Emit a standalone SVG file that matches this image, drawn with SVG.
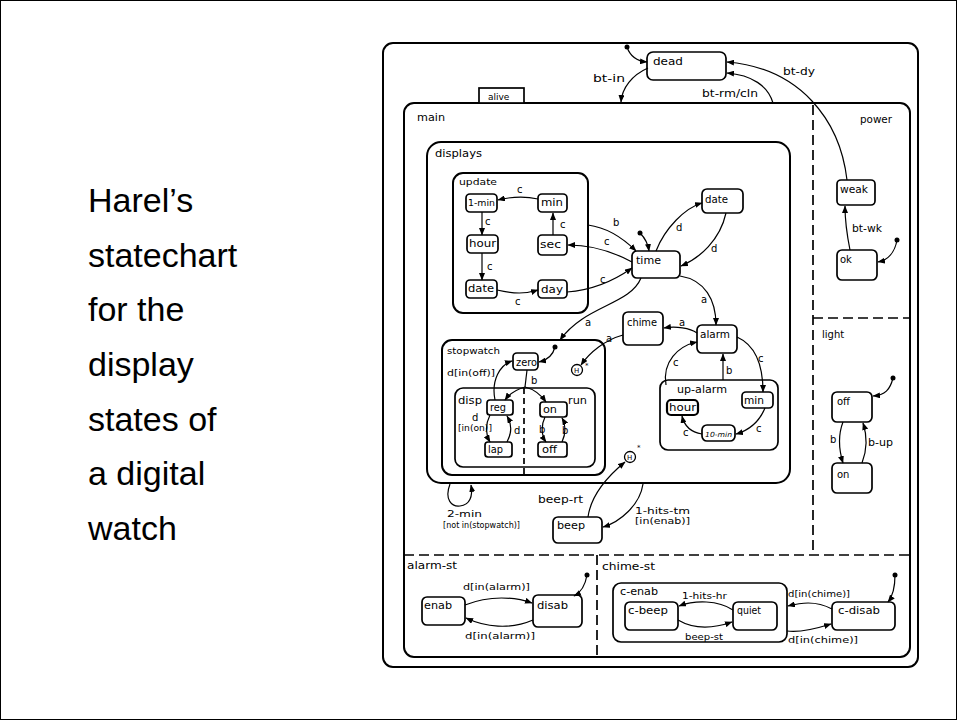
<svg xmlns="http://www.w3.org/2000/svg" width="957" height="720" viewBox="0 0 957 720">
<defs>
<marker id="ah" markerUnits="userSpaceOnUse" markerWidth="8" markerHeight="6" refX="7" refY="3" orient="auto">
<path d="M0,0 L7.5,3 L0,6 z" fill="#000"/>
</marker>
<style>
.bx{fill:none;stroke:#000;stroke-width:2}
.st{fill:#fff;stroke:#000;stroke-width:1.7}
.dash{fill:none;stroke:#000;stroke-width:1.7;stroke-dasharray:10 5}
.ar{fill:none;stroke:#000;stroke-width:1.2;marker-end:url(#ah)}
.ln{fill:none;stroke:#000;stroke-width:1.2}
.dot{fill:#000}
text{font-family:"DejaVu Sans","Liberation Sans",sans-serif;font-size:10px;fill:#000}
.s{font-size:9px}
.xs{font-size:8px}
.big{font-family:"Liberation Sans",Arial,sans-serif;font-size:34px}
</style>
</defs>
<rect x="0.5" y="0.5" width="956" height="719" fill="#fff" stroke="#000" stroke-width="1"/>
<g id="caption">
<text class="big" x="88" y="212">Harel’s</text>
<text class="big" x="88" y="267">statechart</text>
<text class="big" x="88" y="321">for the</text>
<text class="big" x="88" y="376">display</text>
<text class="big" x="88" y="431">states of</text>
<text class="big" x="88" y="485">a digital</text>
<text class="big" x="88" y="540">watch</text>
</g>
<g id="outer"><rect class="bx" x="383" y="43" width="535" height="624" rx="10"/></g>
<g id="alive">
<rect class="bx" x="404" y="103" width="506" height="554" rx="10"/>
<rect class="st" x="479" y="88" width="45" height="15"/>
<text class="s" x="488" y="100">alive</text>
</g>
<g id="dividers">
<line class="dash" x1="813" y1="105" x2="813" y2="555"/>
<line class="dash" x1="813" y1="318" x2="910" y2="318"/>
<line class="dash" x1="404" y1="555" x2="910" y2="555"/>
<line class="dash" x1="597" y1="555" x2="597" y2="657"/>
</g>
<g id="main"><text x="417" y="121" textLength="28" lengthAdjust="spacingAndGlyphs">main</text></g>
<g id="dead"><rect class="st" x="647" y="52" width="79" height="28" rx="6"/><text x="653" y="65" textLength="30" lengthAdjust="spacingAndGlyphs">dead</text></g>
<g id="power"><text x="860" y="123" textLength="32" lengthAdjust="spacingAndGlyphs">power</text></g>
<g id="weak"><rect class="st" x="837" y="180" width="38" height="25" rx="4"/><text x="840" y="193" textLength="28" lengthAdjust="spacingAndGlyphs">weak</text></g>
<g id="ok"><rect class="st" x="837" y="250" width="40" height="30" rx="5"/><text x="840" y="263">ok</text></g>
<g id="light"><text x="822" y="338">light</text></g>
<g id="light-off"><rect class="st" x="832" y="392" width="40" height="30" rx="5"/><text x="837" y="405">off</text></g>
<g id="light-on"><rect class="st" x="832" y="463" width="40" height="30" rx="5"/><text x="837" y="478">on</text></g>
<g id="displays"><rect class="bx" x="427" y="142" width="363" height="341" rx="14"/><text x="435" y="157" textLength="47" lengthAdjust="spacingAndGlyphs">displays</text></g>
<g id="update"><rect class="bx" x="453" y="173" width="135" height="140" rx="10"/><text class="s" x="459" y="185" textLength="38" lengthAdjust="spacingAndGlyphs">update</text></g>
<g id="u-1min"><rect class="st" x="466" y="194" width="31" height="18" rx="4"/><text class="s" x="468" y="206" textLength="27" lengthAdjust="spacingAndGlyphs">1-min</text></g>
<g id="u-min"><rect class="st" x="538" y="194" width="29" height="18" rx="4"/><text x="541" y="206" textLength="22" lengthAdjust="spacingAndGlyphs">min</text></g>
<g id="u-hour"><rect class="st" x="467" y="235" width="31" height="18" rx="4"/><text x="469" y="247" textLength="27" lengthAdjust="spacingAndGlyphs">hour</text></g>
<g id="u-sec"><rect class="st" x="538" y="235" width="29" height="20" rx="4"/><text x="540" y="248" textLength="21" lengthAdjust="spacingAndGlyphs">sec</text></g>
<g id="u-date"><rect class="st" x="466" y="280" width="31" height="18" rx="4"/><text x="468" y="292" textLength="26" lengthAdjust="spacingAndGlyphs">date</text></g>
<g id="u-day"><rect class="st" x="538" y="280" width="29" height="18" rx="4"/><text x="541" y="293" textLength="22" lengthAdjust="spacingAndGlyphs">day</text></g>
<g id="time"><rect class="st" x="632" y="251" width="48" height="27" rx="5"/><text x="636" y="264" textLength="25" lengthAdjust="spacingAndGlyphs">time</text></g>
<g id="date"><rect class="st" x="702" y="189" width="41" height="24" rx="5"/><text x="705" y="203" textLength="23" lengthAdjust="spacingAndGlyphs">date</text></g>
<g id="chime"><rect class="st" x="623" y="312" width="40" height="33" rx="5"/><text x="627" y="326" textLength="30" lengthAdjust="spacingAndGlyphs">chime</text></g>
<g id="alarm"><rect class="st" x="697" y="325" width="40" height="28" rx="5"/><text x="700" y="338" textLength="30" lengthAdjust="spacingAndGlyphs">alarm</text></g>
<g id="stopwatch"><rect class="bx" x="442" y="340" width="163" height="135" rx="10"/><text class="s" x="447" y="354" textLength="53" lengthAdjust="spacingAndGlyphs">stopwatch</text></g>
<g id="h1"><circle cx="577" cy="370" r="5.5" fill="#fff" stroke="#000" stroke-width="1.3"/><text x="574" y="373" style="font-size:7px">H</text><text x="585" y="368" style="font-size:7px">*</text></g>
<g id="zero"><rect class="st" x="513" y="353" width="25" height="17" rx="4"/><text x="516" y="366" textLength="21" lengthAdjust="spacingAndGlyphs">zero</text></g>
<g id="disp-run"><rect class="bx" x="455" y="388" width="140" height="79" rx="8" style="stroke-width:1.7"/><line class="dash" x1="524" y1="388" x2="524" y2="475" style="stroke-dasharray:6 4"/><text x="458" y="404" textLength="24" lengthAdjust="spacingAndGlyphs">disp</text><text x="568" y="404" textLength="19" lengthAdjust="spacingAndGlyphs">run</text></g>
<g id="reg"><rect class="st" x="487" y="400" width="26" height="15" rx="3"/><text x="490" y="411" textLength="16" lengthAdjust="spacingAndGlyphs">reg</text></g>
<g id="lap"><rect class="st" x="485" y="442" width="27" height="15" rx="3"/><text x="488" y="453" textLength="15" lengthAdjust="spacingAndGlyphs">lap</text></g>
<g id="sw-on"><rect class="st" x="540" y="402" width="27" height="15" rx="3"/><text x="543" y="413" textLength="14" lengthAdjust="spacingAndGlyphs">on</text></g>
<g id="sw-off"><rect class="st" x="538" y="442" width="29" height="15" rx="3"/><text x="542" y="453" textLength="15" lengthAdjust="spacingAndGlyphs">off</text></g>
<g id="up-alarm"><rect class="bx" x="660" y="380" width="118" height="70" rx="8" style="stroke-width:1.7"/><text x="677" y="393" textLength="50" lengthAdjust="spacingAndGlyphs">up-alarm</text></g>
<g id="ua-hour"><rect class="st" x="667" y="400" width="31" height="15" rx="4" style="stroke-width:2.2"/><text x="669" y="411" textLength="27" lengthAdjust="spacingAndGlyphs">hour</text></g>
<g id="ua-min"><rect class="st" x="742" y="392" width="31" height="16" rx="4"/><text x="744" y="404" textLength="20" lengthAdjust="spacingAndGlyphs">min</text></g>
<g id="ua-10min"><rect class="st" x="702" y="425" width="33" height="16" rx="5"/><text x="705" y="437" style="font-size:7px;font-style:italic" textLength="27" lengthAdjust="spacingAndGlyphs">10-min</text></g>
<g id="h2"><circle cx="630" cy="457" r="5.5" fill="#fff" stroke="#000" stroke-width="1.3"/><text x="627" y="460" style="font-size:7px">H</text><text x="637" y="450" style="font-size:7px">*</text></g>
<g id="beep"><rect class="st" x="553" y="517" width="49" height="26" rx="5"/><text x="557" y="529" textLength="28" lengthAdjust="spacingAndGlyphs">beep</text></g>
<g id="alarm-st"><text x="407" y="569" textLength="50" lengthAdjust="spacingAndGlyphs">alarm-st</text></g>
<g id="enab"><rect class="st" x="422" y="597" width="43" height="28" rx="5"/><text x="424" y="609" textLength="28" lengthAdjust="spacingAndGlyphs">enab</text></g>
<g id="disab"><rect class="st" x="533" y="595" width="49" height="32" rx="5"/><text x="537" y="609" textLength="31" lengthAdjust="spacingAndGlyphs">disab</text></g>
<g id="chime-st"><text x="602" y="570" textLength="53" lengthAdjust="spacingAndGlyphs">chime-st</text></g>
<g id="c-enab"><rect class="bx" x="613" y="583" width="174" height="59" rx="8" style="stroke-width:1.7"/><text x="620" y="595" textLength="38" lengthAdjust="spacingAndGlyphs">c-enab</text></g>
<g id="c-beep"><rect class="st" x="625" y="602" width="53" height="28" rx="5"/><text x="628" y="614" textLength="40" lengthAdjust="spacingAndGlyphs">c-beep</text></g>
<g id="quiet"><rect class="st" x="733" y="602" width="44" height="28" rx="5"/><text x="737" y="614" textLength="24" lengthAdjust="spacingAndGlyphs">quiet</text></g>
<g id="c-disab"><rect class="st" x="832" y="602" width="63" height="28" rx="5"/><text x="838" y="614" textLength="42" lengthAdjust="spacingAndGlyphs">c-disab</text></g>
<g id="connectors">
<circle class="dot" cx="627" cy="47" r="2.5"/><path class="ar" d="M627,47 C630,56 636,61 647,62"/>
<path class="ar" d="M648,68 C632,75 622,88 621,102"/>
<path class="ar" d="M773,103 C768,86 752,75 727,73"/>
<path class="ar" d="M847,180 C840,120 800,68 727,62"/>
<path class="ar" d="M850,250 C847,235 845,220 845,206"/>
<circle class="dot" cx="897" cy="240" r="2.5"/><path class="ar" d="M897,240 C895,252 888,260 878,262"/>
<circle class="dot" cx="893" cy="378" r="2.5"/><path class="ar" d="M893,378 C890,390 885,395 873,396"/>
<path class="ar" d="M843,422 C838,435 839,450 843,463"/>
<path class="ar" d="M862,463 C867,450 867,435 863,423"/>
<path class="ar" d="M588,225 C610,228 625,240 636,251"/>
<path class="ar" d="M632,262 C610,250 590,245 568,245"/>
<path class="ar" d="M567,292 C595,290 615,280 632,268"/>
<path class="ar" d="M538,199 C525,196 510,197 498,200"/>
<path class="ar" d="M482,212 L482,235"/>
<path class="ar" d="M482,253 L482,280"/>
<path class="ar" d="M497,290 C515,294 525,294 538,290"/>
<path class="ar" d="M553,235 L553,213"/>
<circle class="dot" cx="640" cy="233" r="2.5"/><path class="ar" d="M640,233 C645,238 648,244 649,251"/>
<path class="ar" d="M656,251 C665,228 685,208 702,203"/>
<path class="ar" d="M726,213 C720,240 700,258 681,266"/>
<path class="ar" d="M680,276 C705,280 716,300 716,325"/>
<path class="ar" d="M641,278 C630,305 585,305 560,340"/>
<path class="ar" d="M697,333 C690,328 676,326 664,328"/>
<path class="ar" d="M623,335 C605,340 590,352 581,365"/>
<circle class="dot" cx="555" cy="347" r="2.5"/><path class="ar" d="M555,347 C553,355 548,360 539,362"/>
<path class="ln" d="M527,370 L525,387"/>
<path class="ar" d="M525,387 C518,389 510,393 505,400"/>
<path class="ar" d="M525,387 C533,389 541,395 546,402"/>
<path class="ar" d="M495,400 C491,380 500,365 512,361"/>
<path class="ar" d="M490,415 C485,425 486,435 490,442"/>
<path class="ar" d="M507,442 C512,432 512,425 507,416"/>
<path class="ar" d="M545,417 C541,425 541,435 546,442"/>
<path class="ar" d="M562,442 C566,433 566,425 562,418"/>
<path class="ar" d="M737,337 C755,345 763,365 763,392"/>
<path class="ar" d="M765,408 C760,420 750,430 736,434"/>
<path class="ar" d="M702,434 C690,432 684,425 682,416"/>
<path class="ar" d="M666,385 C662,362 678,346 697,342"/>
<path class="ar" d="M723,380 L723,354"/>
<path class="ar" d="M588,517 C591,495 608,476 625,462"/>
<path class="ar" d="M643,484 C640,505 620,522 603,527"/>
<path class="ar" d="M450,484 C444,500 452,507 460,506 C470,505 473,496 471,485"/>
<path class="ar" d="M465,605 C490,595 515,597 532,603"/>
<path class="ar" d="M533,620 C510,630 485,627 466,618"/>
<circle class="dot" cx="587" cy="575" r="2.5"/><path class="ar" d="M587,575 C585,587 580,593 574,596"/>
<path class="ar" d="M733,610 C718,600 695,600 679,606"/>
<path class="ar" d="M678,620 C695,630 715,628 732,622"/>
<path class="ar" d="M832,609 C815,600 800,603 788,606"/>
<path class="ar" d="M787,631 C800,633 815,629 831,624"/>
<circle class="dot" cx="895" cy="575" r="2.5"/><path class="ar" d="M895,575 C895,590 892,597 888,602"/>
</g>
<g id="labels">
<text x="593" y="82" textLength="32" lengthAdjust="spacingAndGlyphs">bt-in</text>
<text x="702" y="97" textLength="56" lengthAdjust="spacingAndGlyphs">bt-rm/cln</text>
<text x="783" y="75" textLength="32" lengthAdjust="spacingAndGlyphs">bt-dy</text>
<text x="852" y="232" textLength="30" lengthAdjust="spacingAndGlyphs">bt-wk</text>
<text x="830" y="443">b</text>
<text x="868" y="446" textLength="25" lengthAdjust="spacingAndGlyphs">b-up</text>
<text x="517" y="193">c</text>
<text x="485" y="225">c</text>
<text x="487" y="270">c</text>
<text x="515" y="305">c</text>
<text x="560" y="228">c</text>
<text x="604" y="245">c</text>
<text x="600" y="283">c</text>
<text x="613" y="226">b</text>
<text x="676" y="231">d</text>
<text x="711" y="252">d</text>
<text x="701" y="303">a</text>
<text x="585" y="326">a</text>
<text x="679" y="326">a</text>
<text x="606" y="342">a</text>
<text x="531" y="384">b</text>
<text class="s" x="447" y="376" textLength="48" lengthAdjust="spacingAndGlyphs">d[in(off)]</text>
<text x="472" y="421">d</text>
<text class="xs" x="458" y="431" textLength="34" lengthAdjust="spacingAndGlyphs">[in(on)]</text>
<text x="514" y="434">d</text>
<text x="539" y="433">b</text>
<text x="562" y="434">b</text>
<text x="758" y="362">c</text>
<text x="673" y="366">c</text>
<text x="726" y="374">b</text>
<text x="756" y="432">c</text>
<text x="683" y="436">c</text>
<text x="538" y="503" textLength="45" lengthAdjust="spacingAndGlyphs">beep-rt</text>
<text class="xs" x="635" y="514" textLength="55" lengthAdjust="spacingAndGlyphs">1-hits-tm</text>
<text class="xs" x="635" y="524" textLength="55" lengthAdjust="spacingAndGlyphs">[in(enab)]</text>
<text class="xs" x="447" y="517" textLength="35" lengthAdjust="spacingAndGlyphs">2-min</text>
<text class="xs" x="443" y="528" textLength="77" lengthAdjust="spacingAndGlyphs">[not in(stopwatch)]</text>
<text class="s" x="463" y="590" textLength="67" lengthAdjust="spacingAndGlyphs">d[in(alarm)]</text>
<text class="s" x="465" y="639" textLength="70" lengthAdjust="spacingAndGlyphs">d[in(alarm)]</text>
<text class="s" x="682" y="599" textLength="45" lengthAdjust="spacingAndGlyphs">1-hits-hr</text>
<text class="s" x="685" y="640" textLength="38" lengthAdjust="spacingAndGlyphs">beep-st</text>
<text class="s" x="788" y="597" textLength="62" lengthAdjust="spacingAndGlyphs">d[in(chime)]</text>
<text class="s" x="788" y="643" textLength="70" lengthAdjust="spacingAndGlyphs">d[in(chime)]</text>
</g>
</svg>
